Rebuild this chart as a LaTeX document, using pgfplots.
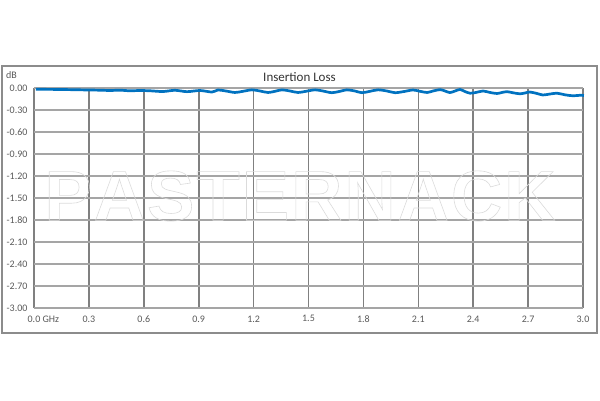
\documentclass[border=0pt]{standalone}
\usepackage{pgfplots}
\pgfplotsset{compat=1.18}
\usepackage{calc}
\usepackage{fontspec}
\setmainfont{Carlito}
\newfontfamily\wmfont{Liberation Sans}
\definecolor{lineblue}{RGB}{0,114,192}
\definecolor{vgrid}{RGB}{128,128,128}
\definecolor{hgrid}{RGB}{165,165,165}
\definecolor{ticktext}{RGB}{89,89,89}
\definecolor{framegray}{RGB}{140,140,140}
\definecolor{wm}{RGB}{215,215,215}
\begin{document}
\begin{tikzpicture}[x=1pt,y=1pt]
\useasboundingbox (0,0) rectangle (600,400);
\draw[framegray, line width=1.5pt] (2,67) rectangle (597,334);
\begin{axis}[
  at={(34pt,92pt)}, anchor=south west,
  scale only axis, width=549pt, height=220pt,
  xmin=0, xmax=3, ymin=-3, ymax=0,
  axis line style={draw=none},
  xtick={0,0.3,...,3.01},
  xticklabels={\makebox[\widthof{0.0}][l]{0.0 GHz},0.3,0.6,0.9,1.2,1.5,1.8,2.1,2.4,2.7,3.0},
  ytick={-3,-2.7,...,0.01},
  yticklabel style={/pgf/number format/fixed, /pgf/number format/fixed zerofill, /pgf/number format/precision=2},
  /pgf/number format/assume math mode=true,
  tick style={draw=none},
  ticklabel style={font=\fontsize{10}{12}\selectfont, text=ticktext},
  xticklabel style={yshift=-4pt},
  yticklabel style={xshift=-3pt},
  grid=major,
  x grid style={vgrid, line width=1.6pt},
  y grid style={hgrid, line width=1.2pt},
  clip=false,
]
\addplot[lineblue, line width=2.7pt, smooth, tension=0.5] coordinates {
(0.010,-0.018)(0.044,-0.018)(0.142,-0.020)(0.251,-0.025)(0.361,-0.030)(0.415,-0.034)
(0.470,-0.030)(0.525,-0.038)(0.579,-0.034)(0.634,-0.038)(0.705,-0.048)(0.770,-0.031)
(0.836,-0.050)(0.907,-0.034)(0.973,-0.055)(1.005,-0.027)(1.049,-0.041)(1.098,-0.061)
(1.142,-0.045)(1.191,-0.025)(1.235,-0.041)(1.279,-0.061)(1.317,-0.045)(1.355,-0.025)
(1.399,-0.041)(1.443,-0.061)(1.486,-0.045)(1.536,-0.025)(1.579,-0.041)(1.628,-0.064)
(1.672,-0.045)(1.710,-0.025)(1.754,-0.041)(1.792,-0.064)(1.836,-0.045)(1.880,-0.025)
(1.929,-0.041)(1.973,-0.064)(2.022,-0.048)(2.071,-0.027)(2.109,-0.045)(2.148,-0.061)
(2.180,-0.041)(2.219,-0.022)(2.246,-0.041)(2.273,-0.062)(2.301,-0.041)(2.328,-0.020)
(2.355,-0.048)(2.383,-0.071)(2.415,-0.061)(2.454,-0.041)(2.492,-0.061)(2.530,-0.075)
(2.557,-0.061)(2.585,-0.050)(2.617,-0.065)(2.656,-0.079)(2.683,-0.068)(2.710,-0.055)
(2.749,-0.075)(2.781,-0.095)(2.820,-0.082)(2.858,-0.071)(2.902,-0.093)(2.945,-0.106)
(2.984,-0.099)(3.005,-0.102)
};
\end{axis}
\node[text=ticktext, font=\fontsize{10}{12}\selectfont] at (11.5,325) {dB};
\node[text=black!80, font=\fontsize{13}{15}\selectfont] at (299.5,323) {Insertion Loss};
\node[text=wm, font=\wmfont\bfseries\fontsize{71}{71}\selectfont] at (300,204)
  {\special{pdf:literal direct q 1 Tr 0.6 w 0.86 G}P\kern2pt A\kern2pt S\kern2pt T\kern2pt E\kern2pt R\kern2pt N\kern2pt A\kern2pt C\kern2pt K\special{pdf:literal direct Q}};
\end{tikzpicture}
\end{document}
